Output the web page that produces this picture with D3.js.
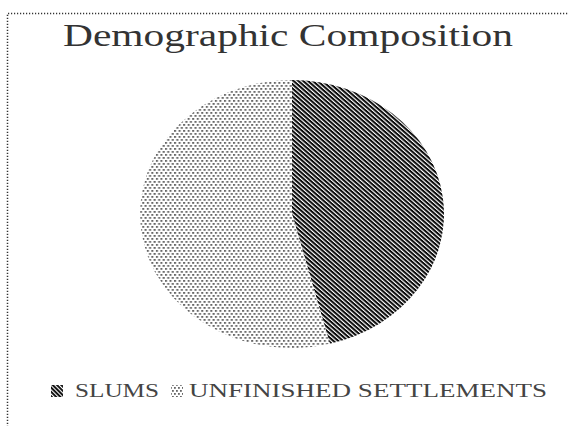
<!DOCTYPE html>
<html>
<head>
<meta charset="utf-8">
<script src="https://cdn.jsdelivr.net/npm/d3@7"></script>
<style>
  html, body { margin: 0; padding: 0; background: #fff; }
  svg { display: block; }
</style>
</head>
<body>
<svg id="chart" width="569" height="426"></svg>
<script>
// Share of the population in each settlement type
const categories = ["SLUMS", "UNFINISHED SETTLEMENTS"];
const shares = [46, 54];
const titleText = "Demographic Composition";

const svg = d3.select("#chart");
const defs = svg.append("defs");

// Dense diagonal hatch for slums
const hatch = defs.append("pattern")
  .attr("id", "hatch")
  .attr("patternUnits", "userSpaceOnUse")
  .attr("width", 3).attr("height", 3)
  .attr("patternTransform", "rotate(45)");
hatch.append("rect").attr("width", 3).attr("height", 3).attr("fill", "#fff");
hatch.append("rect").attr("y", 0).attr("width", 3).attr("height", 1.9).attr("fill", "#0a0a0a");

// Stippled dots for unfinished settlements
const dots = defs.append("pattern")
  .attr("id", "dots")
  .attr("patternUnits", "userSpaceOnUse")
  .attr("width", 4).attr("height", 6);
dots.append("rect").attr("width", 4).attr("height", 6).attr("fill", "#fff");
dots.append("rect").attr("x", 0).attr("y", 0).attr("width", 1.8).attr("height", 1.8).attr("fill", "#666");
dots.append("rect").attr("x", 2).attr("y", 3).attr("width", 1.8).attr("height", 1.8).attr("fill", "#666");

const fills = d3.scaleOrdinal().domain(categories).range(["url(#hatch)", "url(#dots)"]);

// Dotted frame (continues past the right and bottom edges)
svg.append("path")
  .attr("d", "M7.5,430 L7.5,13.5 L575,13.5")
  .attr("fill", "none")
  .attr("stroke", "#333")
  .attr("stroke-width", 1.5)
  .attr("stroke-dasharray", "1.2,1.8");

// Title
svg.append("text")
  .attr("x", 288).attr("y", 46)
  .attr("text-anchor", "middle")
  .attr("font-family", "'Liberation Serif', 'Times New Roman', serif")
  .attr("font-size", 31)
  .attr("fill", "#333")
  .attr("textLength", 450)
  .attr("lengthAdjust", "spacingAndGlyphs")
  .text(titleText);

// Pie, drawn as a circle and stretched into the plot's ellipse
const cx = 292, cy = 214, ry = 134, rx = 152;
const pie = d3.pie().sort(null).value(d => d.value);
const arc = d3.arc().innerRadius(0).outerRadius(ry);
const data = categories.map((c, i) => ({ name: c, value: shares[i] }));

const pieG = svg.append("g")
  .attr("transform", `translate(${cx},${cy}) scale(${rx / ry},1)`);
pieG.selectAll("path")
  .data(pie(data))
  .join("path")
  .attr("d", arc)
  .attr("fill", d => fills(d.data.name));

// Legend
const legendItems = [
  { name: categories[0], box: 51, textX: 75, textLen: 84 },
  { name: categories[1], box: 171, textX: 189, textLen: 358 }
];
const legend = svg.append("g");
legend.selectAll("rect")
  .data(legendItems)
  .join("rect")
  .attr("x", d => d.box).attr("y", 385)
  .attr("width", 12).attr("height", 12)
  .attr("fill", d => fills(d.name));
legend.selectAll("text")
  .data(legendItems)
  .join("text")
  .attr("x", d => d.textX).attr("y", 397)
  .attr("font-family", "'Liberation Serif', 'Times New Roman', serif")
  .attr("font-size", 18)
  .attr("fill", "#444")
  .attr("textLength", d => d.textLen)
  .attr("lengthAdjust", "spacingAndGlyphs")
  .text(d => d.name);
</script>
</body>
</html>
